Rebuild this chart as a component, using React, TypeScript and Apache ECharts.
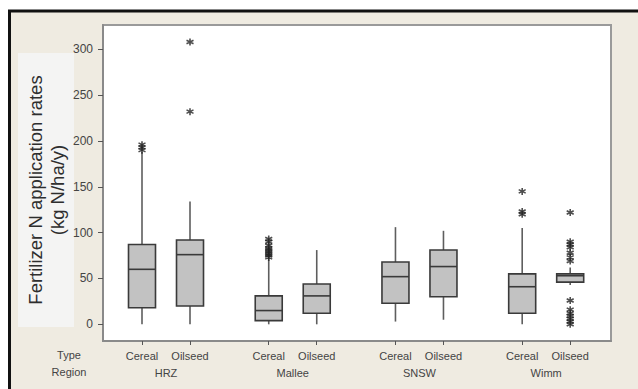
import React, { useEffect, useRef } from "react";
import * as echarts from "echarts";

const regions = ["HRZ", "Mallee", "SNSW", "Wimm"];
const types = ["Cereal", "Oilseed"];
const yTicks = [0, 50, 100, 150, 200, 250, 300];

// [min, q1, median, q3, max] per region, per type
const hrzStats = [
  [0, 18, 60, 87, 188],
  [0, 20, 76, 92, 134],
];
const malleeStats = [
  [0, 4, 15, 31, 71],
  [0, 12, 31, 44, 81],
];
const snswStats = [
  [3, 23, 52, 68, 106],
  [5, 30, 63, 81, 102],
];
const wimmStats = [
  [0, 12, 41, 55, 105],
  [43, 46, 53, 55, 62],
];
const allStats = [hrzStats, malleeStats, snswStats, wimmStats];

const hrzOutliers = [[190, 193, 196], [232, 308]];
const malleeOutliers = [[73, 75, 77, 79, 81, 83, 86, 90, 93], []];
const snswOutliers = [[], []];
const wimmOutliers = [
  [120, 123, 145],
  [122, 90, 87, 84, 78, 73, 69, 26, 16, 12, 9, 6, 3, 0],
];
const allOutliers = [hrzOutliers, malleeOutliers, snswOutliers, wimmOutliers];

const GROUP_STEP = 2.64;
const pos = (g: number, t: number) => g * GROUP_STEP + t;

export default function App() {
  const ref = useRef<HTMLDivElement>(null);
  useEffect(() => {
    if (!ref.current) return;
    const chart = echarts.init(ref.current, null, { renderer: "svg" });

    const boxData: number[][] = [];
    const outData: number[][] = [];
    const positions: number[] = [];
    const posType: string[] = [];
    allStats.forEach((grp, g) => {
      grp.forEach((s, t) => {
        const x = pos(g, t);
        positions.push(x);
        posType.push(types[t]);
        boxData.push([x, ...s]);
        allOutliers[g][t].forEach((v) => outData.push([x, v]));
      });
    });
    const regionPos = regions.map((_, g) => pos(g, 0.5));

    const nearest = (arr: number[], v: number) => {
      let bi = 0;
      arr.forEach((a, i) => {
        if (Math.abs(a - v) < Math.abs(arr[bi] - v)) bi = i;
      });
      return bi;
    };

    const font = "'Liberation Sans', Arial, sans-serif";

    chart.setOption({
      animation: false,
      backgroundColor: "#ffffff",
      graphic: [
        {
          type: "rect",
          z: -10,
          silent: true,
          shape: { x: 9.5, y: 11, width: 700, height: 500 },
          style: { fill: "#efebe1", stroke: "#111", lineWidth: 3 },
        },
        {
          type: "rect",
          z: -9,
          silent: true,
          shape: { x: 18, y: 53, width: 56, height: 274 },
          style: { fill: "#f4f4f3" },
        },
        {
          type: "text",
          z: 10,
          x: 46,
          y: 190,
          rotation: Math.PI / 2,
          style: {
            text: "Fertilizer N application rates\n(kg N/ha/y)",
            fill: "#2e2e2e",
            font: `18.5px ${font}`,
            align: "center",
            verticalAlign: "middle",
            lineHeight: 22,
          },
        },
        {
          type: "text",
          x: 69,
          y: 355,
          style: {
            text: "Type",
            fill: "#444",
            font: `11px ${font}`,
            align: "center",
            verticalAlign: "middle",
          },
        },
        {
          type: "text",
          x: 69,
          y: 372,
          style: {
            text: "Region",
            fill: "#444",
            font: `11px ${font}`,
            align: "center",
            verticalAlign: "middle",
          },
        },
      ],
      grid: {
        left: 103,
        top: 25,
        width: 508,
        height: 316,
        show: true,
        backgroundColor: "#ffffff",
        borderColor: "#9a9a9a",
        borderWidth: 2,
      },
      xAxis: [
        {
          type: "value",
          min: -0.8125,
          max: 9.77,
          position: "bottom",
          splitLine: { show: false },
          axisLine: { show: true, onZero: false, lineStyle: { color: "#8a8a8a", width: 2 } },
          axisTick: {
            show: true,
            customValues: positions,
            length: 4,
            lineStyle: { color: "#555" },
          },
          axisLabel: {
            customValues: positions,
            margin: 9,
            color: "#444",
            fontSize: 11,
            fontFamily: font,
            formatter: (v: number) => posType[nearest(positions, v)],
          },
        },
        {
          type: "value",
          min: -0.8125,
          max: 9.77,
          position: "bottom",
          offset: 17,
          splitLine: { show: false },
          axisLine: { show: false },
          axisTick: { show: false },
          axisLabel: {
            customValues: regionPos,
            margin: 9,
            color: "#444",
            fontSize: 11,
            fontFamily: font,
            formatter: (v: number) => regions[nearest(regionPos, v)],
          },
        },
      ],
      yAxis: {
        type: "value",
        min: -18.2,
        max: 326.5,
        splitLine: { show: false },
        axisLine: { show: true, onZero: false, lineStyle: { color: "#8a8a8a", width: 2 } },
        axisTick: {
          show: true,
          customValues: yTicks,
          length: 5,
          lineStyle: { color: "#555" },
        },
        axisLabel: {
          customValues: yTicks,
          margin: 10,
          color: "#444",
          fontSize: 12,
          fontFamily: font,
        },
      },
      series: [
        {
          type: "custom",
          xAxisIndex: 0,
          data: boxData,
          encode: { x: 0, y: [1, 2, 3, 4, 5] },
          renderItem: (params: any, api: any) => {
            const x = api.value(0);
            const pMin = api.coord([x, api.value(1)]);
            const pQ1 = api.coord([x, api.value(2)]);
            const pMed = api.coord([x, api.value(3)]);
            const pQ3 = api.coord([x, api.value(4)]);
            const pMax = api.coord([x, api.value(5)]);
            const hw = 13.5;
            const whisk = { stroke: "#5e5e5e", lineWidth: 1.6 };
            return {
              type: "group",
              children: [
                {
                  type: "line",
                  shape: { x1: pMax[0], y1: pMax[1], x2: pQ3[0], y2: pQ3[1] },
                  style: whisk,
                },
                {
                  type: "line",
                  shape: { x1: pMin[0], y1: pMin[1], x2: pQ1[0], y2: pQ1[1] },
                  style: whisk,
                },
                {
                  type: "rect",
                  shape: {
                    x: pQ3[0] - hw,
                    y: pQ3[1],
                    width: hw * 2,
                    height: pQ1[1] - pQ3[1],
                  },
                  style: { fill: "#c2c2c2", stroke: "#3a3a3a", lineWidth: 1.6 },
                },
                {
                  type: "line",
                  shape: { x1: pMed[0] - hw, y1: pMed[1], x2: pMed[0] + hw, y2: pMed[1] },
                  style: { stroke: "#3a3a3a", lineWidth: 1.6 },
                },
              ],
            };
          },
        },
        {
          type: "scatter",
          xAxisIndex: 0,
          data: outData,
          symbol: "path://M5,0L5,10M0.7,2.5L9.3,7.5M0.7,7.5L9.3,2.5",
          symbolSize: 7,
          itemStyle: { color: "rgba(0,0,0,0)", borderColor: "#222", borderWidth: 1.6 },
        },
      ],
    });
    return () => chart.dispose();
  }, []);
  return (
    <div
      ref={ref}
      style={{ position: "fixed", left: 0, top: 0, width: 638, height: 389 }}
    />
  );
}
